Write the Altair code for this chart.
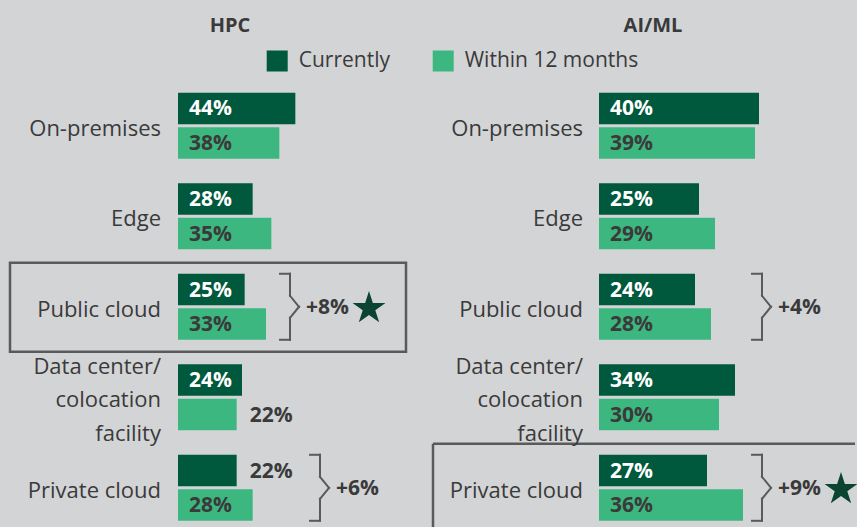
import altair as alt
import pandas as pd

# ---------------- data ----------------
categories = ["On-premises", "Edge", "Public cloud", "Data center/\ncolocation\nfacility", "Private cloud"]
series = ["Currently", "Within 12 months"]

hpc_currently = [44, 28, 25, 24, 22]
hpc_within = [38, 35, 33, 22, 28]
aiml_currently = [40, 25, 24, 34, 27]
aiml_within = [39, 29, 28, 30, 36]

hpc_change_rows = ["Public cloud", "Private cloud"]
hpc_change_text = ["+8%", "+6%"]
hpc_star_rows = ["Public cloud"]
hpc_box_row = "Public cloud"

aiml_change_rows = ["Public cloud", "Private cloud"]
aiml_change_text = ["+4%", "+9%"]
aiml_star_rows = ["Private cloud"]
aiml_box_row = "Private cloud"

# ---------------- style / layout ----------------
W, H = 857, 527
BG = "#d3d4d6"
DARK = "#00583d"
LIGHT = "#3cb77f"
STAR = "#0b4431"
TEXT = "#3a3a3a"
LINE = "#5a5a5a"
FONT = "Open Sans"
ROW_PX = 90.5
LINE_PX = 33.5
Y_DOMAIN = [-0.45, 4.40]
Y_RANGE = [85, 524]
STAR_PATH = ("M0,-1L0.2245,-0.309L0.951,-0.309L0.363,0.118L0.588,0.809L0,0.382"
             "L-0.588,0.809L-0.363,0.118L-0.951,-0.309L-0.2245,-0.309Z")

HPC_LAYOUT = dict(title="HPC", title_x=230, xrange=[178, 418], xmax=90,
                  bracket_px={"Public cloud": 102, "Private cloud": 132},
                  label_pad=17, box="closed", box_left=-168, box_right=228)
AIML_LAYOUT = dict(title="AI/ML", title_x=653, xrange=[599, 855], xmax=64,
                   bracket_px={"Public cloud": 153, "Private cloud": 153},
                   label_pad=16, box="open", box_left=-166, box_right=256)

YS = alt.Scale(domain=Y_DOMAIN, range=Y_RANGE, nice=False, zero=False)


def yenc(field):
    return alt.Y(f"{field}:Q", scale=YS, axis=None)


def panel(cur, wit, change_rows, change_text, star_rows, box_row, lay, with_legend):
    k = (lay["xrange"][1] - lay["xrange"][0]) / lay["xmax"]  # px per percentage point
    xs = alt.Scale(domain=[0, lay["xmax"]], range=lay["xrange"], nice=False, zero=True)

    def xenc(field):
        return alt.X(f"{field}:Q", scale=xs, axis=None)

    bar_rows = []
    for i, cat in enumerate(categories):
        for s, vals, (t0, t1) in [(series[0], cur, (-33, -1.5)), (series[1], wit, (1.5, 33))]:
            v = vals[i]
            inside = v * k >= 60
            bar_rows.append(dict(category=cat, series=s, value=v, x0=0,
                                 y0=i + t0 / ROW_PX, y1=i + t1 / ROW_PX,
                                 ymid=i + (t0 + t1) / 2 / ROW_PX,
                                 lx=(11 / k if inside else v + 13 / k),
                                 label=f"{v}%",
                                 tcol=("white" if (inside and s == series[0]) else TEXT)))
    bars_df = pd.DataFrame(bar_rows)

    cscale = alt.Scale(domain=series, range=[DARK, LIGHT])
    if with_legend:
        color = alt.Color("series:N", scale=cscale, legend=alt.Legend(
            title=None, orient="none", legendX=266.7, legendY=50.5,
            direction="horizontal", symbolType="square",
            symbolSize=441, symbolStrokeWidth=0, symbolOpacity=1,
            labelFont=FONT, labelFontSize=21, labelColor=TEXT,
            labelOffset=11, columnPadding=42, padding=0, labelLimit=0))
    else:
        color = alt.Color("series:N", scale=cscale)
    bars = alt.Chart(bars_df).mark_bar().encode(
        x=xenc("x0"), x2="value:Q", y=yenc("y0"), y2="y1:Q", color=color)
    labels = alt.Chart(bars_df).mark_text(align="left", baseline="middle", font=FONT,
                                          fontSize=21, fontWeight="bold", dy=1).encode(
        x=xenc("lx"), y=yenc("ymid"), text="label:N",
        color=alt.Color("tcol:N", scale=None),
    )

    # category labels, one text per line
    cl_rows = []
    for i, cat in enumerate(categories):
        parts = cat.split("\n")
        n = len(parts)
        for j, p in enumerate(parts):
            cl_rows.append(dict(x=0, y=i + (j - (n - 1) / 2) * LINE_PX / ROW_PX, t=p))
    cat_labels = alt.Chart(pd.DataFrame(cl_rows)).mark_text(
        align="right", baseline="middle", font=FONT, fontSize=22, color=TEXT,
        dx=-lay["label_pad"], dy=3).encode(
        x=xenc("x"), y=yenc("y"), text="t:N")

    title = alt.Chart(pd.DataFrame(dict(t=[lay["title"]]))).mark_text(
        align="center", baseline="alphabetic", font=FONT, fontSize=20, fontWeight="bold",
        color=TEXT).encode(x=alt.value(lay["title_x"]), y=alt.value(32), text="t:N")

    # brackets as rule segments
    seg_rows, ch_rows, st_rows = [], [], []
    for r, txt in zip(change_rows, change_text):
        i = categories.index(r)
        bx = lay["bracket_px"][r]
        pts = [(bx, -33), (bx + 10, -33), (bx + 10, -11), (bx + 19, 0),
               (bx + 10, 11), (bx + 10, 33), (bx, 33)]
        for (ax, ay), (bx2, by2) in zip(pts[:-1], pts[1:]):
            seg_rows.append(dict(x0=ax / k, x1=bx2 / k,
                                 y0=i + ay / ROW_PX, y1=i + by2 / ROW_PX))
        ch_rows.append(dict(x=(bx + 26) / k, y=i, text=txt))
        if r in star_rows:
            st_rows.append(dict(x=(bx + 89) / k, y=i + 1.5 / ROW_PX))
    brackets = alt.Chart(pd.DataFrame(seg_rows)).mark_rule(
        color=LINE, strokeWidth=2, strokeCap="square").encode(
        x=xenc("x0"), x2="x1:Q", y=yenc("y0"), y2="y1:Q")
    changes = alt.Chart(pd.DataFrame(ch_rows)).mark_text(
        align="left", baseline="middle", font=FONT, fontSize=21, fontWeight="bold",
        color=TEXT, dy=1).encode(x=xenc("x"), y=yenc("y"), text="text:N")
    stars = alt.Chart(pd.DataFrame(st_rows)).mark_point(
        shape=STAR_PATH, filled=True, opacity=1, color=STAR, size=1200,
        strokeWidth=0).encode(x=xenc("x"), y=yenc("y"))

    bi = categories.index(box_row)
    if lay["box"] == "closed":
        box_df = pd.DataFrame([dict(x0=lay["box_left"] / k, x1=lay["box_right"] / k,
                                    y0=bi - 44 / ROW_PX, y1=bi + 45 / ROW_PX)])
        box = alt.Chart(box_df).mark_rect(fillOpacity=0, stroke=LINE, strokeWidth=2.5).encode(
            x=xenc("x0"), x2="x1:Q", y=yenc("y0"), y2="y1:Q")
    else:
        top = bi - 44 / ROW_PX
        bottom = Y_DOMAIN[1] + 10 / ROW_PX
        box_df = pd.DataFrame([
            dict(x0=lay["box_left"] / k, x1=lay["box_right"] / k, y0=top, y1=top),
            dict(x0=lay["box_left"] / k, x1=lay["box_left"] / k, y0=top, y1=bottom),
        ])
        box = alt.Chart(box_df).mark_rule(color=LINE, strokeWidth=2.5).encode(
            x=xenc("x0"), x2="x1:Q", y=yenc("y0"), y2="y1:Q")

    return alt.layer(box, bars, labels, cat_labels, brackets, changes, stars, title)


hpc = panel(hpc_currently, hpc_within, hpc_change_rows, hpc_change_text,
            hpc_star_rows, hpc_box_row, HPC_LAYOUT, True)
aiml = panel(aiml_currently, aiml_within, aiml_change_rows, aiml_change_text,
             aiml_star_rows, aiml_box_row, AIML_LAYOUT, False)

chart = alt.layer(hpc, aiml).resolve_scale(x="independent").properties(
    width=W, height=H, autosize=alt.AutoSizeParams(type="none"), padding=0,
).configure(background=BG).configure_view(stroke=None)

chart.save("out.html", embed_options={"renderer": "svg", "actions": False})
